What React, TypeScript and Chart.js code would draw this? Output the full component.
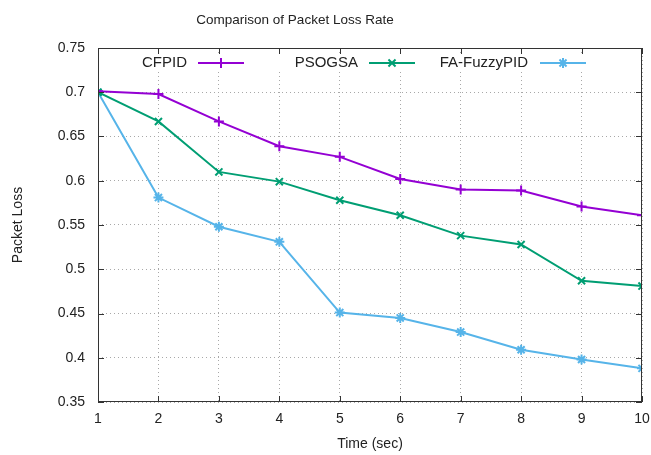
import React, { useEffect, useRef } from "react";
import { Chart, registerables } from "chart.js";

Chart.register(...registerables);

const TITLE = "Comparison of Packet Loss Rate";
const X_TITLE = "Time (sec)";
const Y_TITLE = "Packet Loss";
const times = [1, 2, 3, 4, 5, 6, 7, 8, 9, 10];
const cfpid = [0.701, 0.698, 0.667, 0.639, 0.627, 0.602, 0.590, 0.589, 0.571, 0.561];
const psogsa = [0.700, 0.667, 0.610, 0.599, 0.578, 0.561, 0.538, 0.528, 0.487, 0.481];
const faFuzzy = [0.700, 0.581, 0.548, 0.531, 0.451, 0.445, 0.429, 0.409, 0.398, 0.388];
const seriesNames = ["CFPID", "PSOGSA", "FA-FuzzyPID"];
const seriesColors = ["#9400D3", "#009E73", "#56B4E9"];
const seriesMarkers = ["cross", "crossRot", "star"];

const FONT = "Liberation Sans, Arial, sans-serif";

function drawMarker(ctx: CanvasRenderingContext2D, style: string, x: number, y: number, r: number) {
  ctx.beginPath();
  const d = r * Math.SQRT1_2;
  if (style === "cross" || style === "star") {
    ctx.moveTo(x - r, y); ctx.lineTo(x + r, y);
    ctx.moveTo(x, y - r); ctx.lineTo(x, y + r);
  }
  if (style === "crossRot" || style === "star") {
    ctx.moveTo(x - d, y - d); ctx.lineTo(x + d, y + d);
    ctx.moveTo(x - d, y + d); ctx.lineTo(x + d, y - d);
  }
  ctx.stroke();
}

const gnuplotPlugin = {
  id: "gnuplotDecor",
  beforeDatasetsDraw(chart: any) {
    const { ctx, chartArea } = chart;
    ctx.save();
    ctx.fillStyle = "#ffffff";
    ctx.fillRect(chartArea.left + 1, chartArea.top + 7, chartArea.right - chartArea.left - 2, 17);
    ctx.restore();
  },
  afterDraw(chart: any) {
    const { ctx, chartArea } = chart;
    const { left, right, top, bottom } = chartArea;
    ctx.save();
    // title
    ctx.fillStyle = "#222";
    ctx.font = `13.5px ${FONT}`;
    ctx.textAlign = "center";
    ctx.textBaseline = "middle";
    ctx.fillText(TITLE, 295, 20);
    // border
    ctx.strokeStyle = "#333";
    ctx.lineWidth = 1;
    ctx.setLineDash([]);
    ctx.strokeRect(left + 0.5, top + 0.5, right - left - 1, bottom - top - 1);
    // inward ticks
    const tl = 6;
    const xs = chart.scales.x;
    const ys = chart.scales.y;
    ctx.beginPath();
    xs.ticks.forEach((t: any) => {
      const px = Math.round(xs.getPixelForValue(t.value)) + 0.5;
      ctx.moveTo(px, bottom); ctx.lineTo(px, bottom - tl);
      ctx.moveTo(px, top); ctx.lineTo(px, top + tl);
    });
    ys.ticks.forEach((t: any) => {
      const py = Math.round(ys.getPixelForValue(t.value)) + 0.5;
      ctx.moveTo(left, py); ctx.lineTo(left + tl, py);
      ctx.moveTo(right, py); ctx.lineTo(right - tl, py);
    });
    ctx.stroke();
    // legend
    const textRights = [187, 358, 528];
    const lineStarts = [198, 369, 540];
    const lineLen = 46;
    const ly = top + 15;
    ctx.font = `15px ${FONT}`;
    ctx.textAlign = "right";
    ctx.textBaseline = "middle";
    seriesNames.forEach((name, i) => {
      ctx.fillStyle = "#222";
      ctx.fillText(name, textRights[i], ly);
      ctx.strokeStyle = seriesColors[i];
      ctx.lineWidth = 2;
      ctx.beginPath();
      ctx.moveTo(lineStarts[i], ly);
      ctx.lineTo(lineStarts[i] + lineLen, ly);
      ctx.stroke();
      drawMarker(ctx, seriesMarkers[i], lineStarts[i] + lineLen / 2, ly, 5);
    });
    ctx.restore();
  },
};

export default function App() {
  const ref = useRef<HTMLCanvasElement>(null);
  useEffect(() => {
    if (!ref.current) return;
    const all = [cfpid, psogsa, faFuzzy];
    const chart = new Chart(ref.current, {
      type: "line",
      data: {
        datasets: all.map((vals, i) => ({
          label: seriesNames[i],
          data: times.map((t, j) => ({ x: t, y: vals[j] })),
          borderColor: seriesColors[i],
          backgroundColor: seriesColors[i],
          borderWidth: 2,
          pointStyle: seriesMarkers[i] as any,
          pointRadius: 5,
          pointBorderWidth: 2,
          pointBorderColor: seriesColors[i],
          tension: 0,
          fill: false,
        })),
      },
      options: {
        animation: false,
        responsive: false,
        maintainAspectRatio: false,
        layout: { padding: { top: 48, right: 9, left: 0, bottom: 0 } },
        plugins: { legend: { display: false }, title: { display: false }, tooltip: { enabled: false } },
        scales: {
          x: {
            type: "linear",
            min: 1,
            max: 10,
            border: { display: false, dash: [1, 3] },
            grid: { color: "#a8a8a8", drawTicks: false, lineWidth: 1 },
            ticks: { stepSize: 1, padding: 9, color: "#222", font: { size: 14, family: FONT } },
            title: { display: true, text: X_TITLE, color: "#222", font: { size: 14, family: FONT }, padding: { top: 4, bottom: 2 } },
            afterFit: (s: any) => { s.height = 53; s.paddingLeft = 0; s.paddingRight = 0; },
          },
          y: {
            min: 0.35,
            max: 0.75,
            border: { display: false, dash: [1, 3] },
            grid: { color: "#a8a8a8", drawTicks: false, lineWidth: 1 },
            ticks: {
              stepSize: 0.05,
              padding: 13,
              color: "#222",
              font: { size: 14, family: FONT },
              callback: (v: any) => String(Number(Number(v).toFixed(2))),
            },
            title: { display: true, text: Y_TITLE, color: "#222", font: { size: 14, family: FONT }, padding: { top: 10, bottom: 4 } },
            afterFit: (s: any) => { s.width = 98; s.paddingTop = 0; s.paddingBottom = 0; },
          },
        },
      },
      plugins: [gnuplotPlugin],
    });
    return () => chart.destroy();
  }, []);
  return (
    <div style={{ position: "absolute", left: 0, top: 0, width: 651, height: 455, background: "#fff" }}>
      <canvas ref={ref} width={651} height={455} style={{ width: 651, height: 455 }} />
    </div>
  );
}
